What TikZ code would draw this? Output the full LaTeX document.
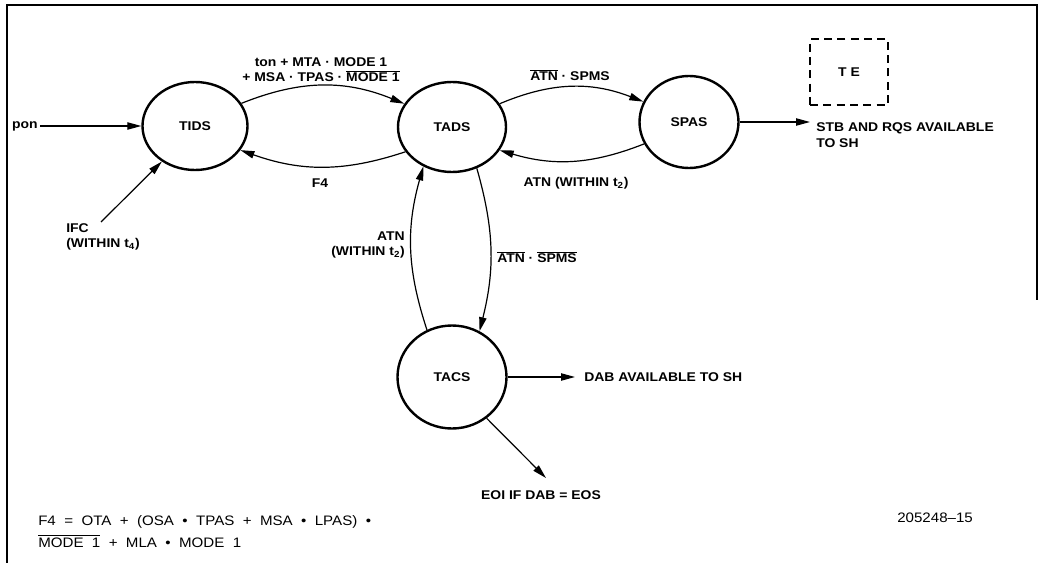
\documentclass[tikz,border=0pt]{standalone}
\usepackage{fontspec}
\setmainfont{Liberation Sans}[FakeStretch=1.1]
\newfontfamily\fmlf{Liberation Sans}[FakeStretch=1.1, WordSpace=2.0]
\usetikzlibrary{shapes.geometric,arrows.meta}
\newcommand\ovl[1]{\ensuremath{\overline{\mbox{#1}}}}
\begin{document}
\begin{tikzpicture}[x=0.75pt,y=-0.75pt,
  st/.style={ellipse,draw,line width=1.8pt,inner sep=0pt,
    font=\bfseries\fontsize{9.5}{11}\selectfont},
  lab/.style={inner sep=1.5pt,font=\bfseries\fontsize{9.5}{11.5}\selectfont},
  fml/.style={inner sep=0pt,font=\fmlf\fontsize{10.3}{14}\selectfont},
  arr/.style={-{Triangle[length=10.5pt,width=5.5pt]},line width=0.9pt},
  frame/.style={line width=1.2pt},
  tebox/.style={draw,dashed,dash pattern=on 6pt off 4pt,line width=0.9pt}]
\useasboundingbox (0,0) rectangle (1042,563);
% frame
\draw[frame] (7,563) -- (7,5) -- (1037,5) -- (1037,300);
% states
\node[st,minimum width=78.75pt,minimum height=66pt] (TIDS) at (195,126) {TIDS};
\node[st,minimum width=81pt,minimum height=67.5pt] (TADS) at (452,127) {TADS};
\node[st,minimum width=74.25pt,minimum height=69pt] (SPAS) at (689,122) {SPAS};
\node[st,minimum width=81.75pt,minimum height=77.25pt] (TACS) at (452,377) {TACS};
% pon
\node[lab,anchor=east] (pon) at (40,126) {pon};
\draw[arr] (pon.east) -- (TIDS.west);
% IFC
\node[lab,anchor=north west,align=left,inner sep=0pt] (ifc) at (66,223) {IFC\\(WITHIN t\textsubscript{4})};
\coordinate (ifcs) at (101,222);
\draw[arr] (ifcs) -- (TIDS.227);
% TIDS <-> TADS
\draw[arr] (TIDS.26) to[bend left=22] (TADS.154);
\draw[arr] (TADS.208) to[bend left=19] (TIDS.332);
\node[lab] (l1) at (321,62) {ton + MTA · MODE 1};
\node[lab] (l2) at (321,76) {+ MSA · TPAS · \ovl{MODE 1}};
\node[lab] (f4) at (320,183) {F4};
% TADS <-> SPAS
\draw[arr] (TADS.26) to[bend left=22] (SPAS.156);
\draw[arr] (SPAS.206) to[bend left=19] (TADS.334);
\node[lab] (l3) at (570,75) {\ovl{ATN} · SPMS};
\node[lab] (l4) at (576,183) {ATN (WITHIN t\textsubscript{2})};
% TADS <-> TACS
\draw[arr] (TACS.118) to[bend left=17] (TADS.234);
\draw[arr] (TADS.301) to[bend left=15] (TACS.59);
\node[lab,anchor=east,align=right] (l5) at (407,245) {ATN\\(WITHIN t\textsubscript{2})};
\node[lab,anchor=west] (l6) at (495,257) {\ovl{ATN} · \ovl{SPMS}};
% SPAS output
\coordinate (stbe) at (810,122);
\draw[arr] (SPAS.east) -- (stbe);
\node[lab,anchor=west,align=left] (stb) at (814,135) {STB AND RQS AVAILABLE\\TO SH};
% TE box
\node[tebox,minimum width=58.5pt,minimum height=49.5pt,inner sep=0pt,font=\bfseries\fontsize{9.5}{11}\selectfont] (te) at (849,72) {T E};
% TACS outputs
\coordinate (dabe) at (575,377);
\draw[arr] (TACS.east) -- (dabe);
\node[lab,anchor=west] (dab) at (582,377) {DAB AVAILABLE TO SH};
\coordinate (eoie) at (546,478);
\draw[arr] (TACS.-50) -- (eoie);
\node[lab] (eoi) at (541,495) {EOI IF DAB = EOS};
% footnote
\node[fml,anchor=west] (fa) at (38,522) {F4 = OTA + (OSA • TPAS + MSA • LPAS) •};
\node[fml,anchor=west] (fb) at (38,541) {\ovl{MODE 1} + MLA • MODE 1};
\node[fml,anchor=west] (num) at (897,518) {205248–15};
\end{tikzpicture}
\end{document}
